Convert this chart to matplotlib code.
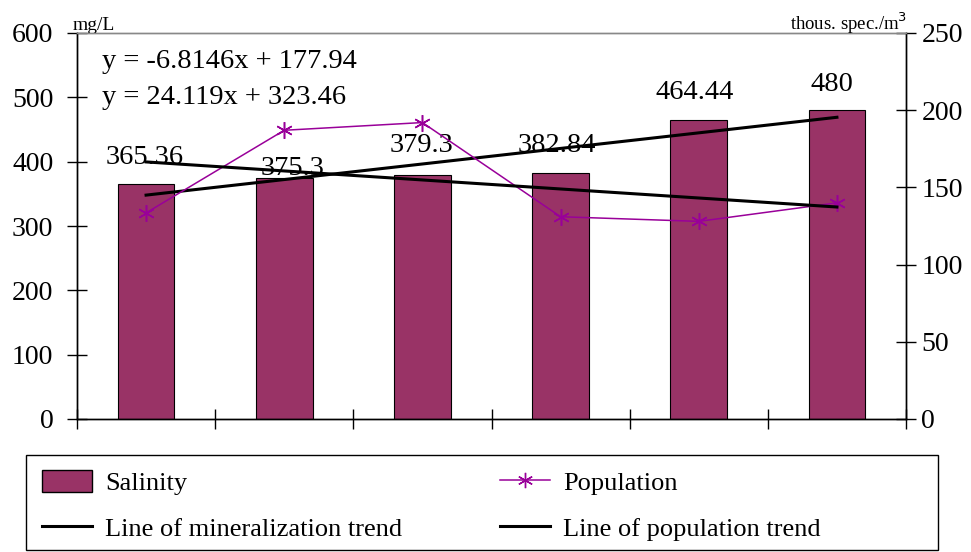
import matplotlib.pyplot as plt
import matplotlib.patches as patches
from matplotlib.lines import Line2D

plt.rcParams['font.family'] = ['Liberation Serif', 'DejaVu Serif']

# data
categories = [1, 2, 3, 4, 5, 6]
salinity = [365.36, 375.3, 379.3, 382.84, 464.44, 480]            # mg/L, left axis
population = [133.5, 187, 192, 131, 128, 140]                      # thous. spec./m3, right axis
mineral_trend_x = [1, 6]
mineral_trend_y = [348, 469]                                        # left axis
pop_trend_x = [1, 6]
pop_trend_y = [166.5, 137.3]                                        # right axis
eq_texts = ["y = -6.8146x + 177.94", "y = 24.119x + 323.46"]

bar_color = "#993366"
pop_color = "#990099"
star = (6, 2, 0)

W, H = 971, 552
fig = plt.figure(figsize=(W / 100, H / 100), dpi=100)
ax = fig.add_axes([77 / W, 1 - 419 / H, 829 / W, 386 / H])
ax2 = ax.twinx()

ax.bar(categories, salinity, width=0.41, color=bar_color, edgecolor="black", linewidth=0.8, zorder=2)
ax.plot(mineral_trend_x, mineral_trend_y, color="black", lw=2.2, zorder=4)
ax2.plot(categories, population, color=pop_color, lw=1.1, marker=star, ms=12, mew=1.1, zorder=3)
ax2.plot(pop_trend_x, pop_trend_y, color="black", lw=2.2, zorder=4)

# value labels over the bars (pixel offsets picked by eye)
label_dy = [26, 9, 29, 27, 28, 26]
label_dx = [-1, 8, -1, -4, -4, -5]
for x, v, dx, dy in zip(categories, salinity, label_dx, label_dy):
    ax.annotate(f"{v:g}", (x, v), xytext=(dx, dy), textcoords="offset pixels",
                ha="center", va="center", fontsize=20.5, zorder=5)

ax.text(25 / 829, 1 - 28 / 386, eq_texts[0], transform=ax.transAxes, fontsize=20.5, va="center")
ax.text(25 / 829, 1 - 64 / 386, eq_texts[1], transform=ax.transAxes, fontsize=20.5, va="center")

ax.set_xlim(0.5, 6.5)
ax.set_ylim(0, 600)
ax2.set_ylim(0, 250)
ax.set_yticks(range(0, 601, 100))
ax2.set_yticks(range(0, 251, 50))
ax.set_xticks([i + 0.5 for i in range(0, 7)])
ax.set_xticklabels([])

ax.tick_params(axis="y", direction="inout", length=14, width=1, labelsize=20, pad=10)
ax2.tick_params(axis="y", direction="inout", length=14, width=1, labelsize=20, pad=4)
ax.tick_params(axis="x", direction="inout", length=14, width=1)

for a in (ax, ax2):
    a.spines["top"].set_color("#888888")
    for s in a.spines.values():
        s.set_linewidth(1)

ax.text(-4 / 829, 1 + 3 / 386, "mg/L", transform=ax.transAxes, fontsize=14, ha="left", va="baseline")
ax2.text(1.001, 1 + 3 / 386, "thous. spec./m$^3$", transform=ax2.transAxes, fontsize=13.5,
         ha="right", va="baseline")

# legend: frame drawn separately, two columns placed by pixel position
frame = patches.Rectangle((26 / W, 1 - 550 / H), (938 - 26) / W, (550 - 455) / H,
                          transform=fig.transFigure, facecolor="white", edgecolor="black",
                          linewidth=1)
fig.patches.append(frame)

col1 = [
    patches.Patch(facecolor=bar_color, edgecolor="black", label="Salinity"),
    Line2D([], [], color="black", lw=2.2, label="Line of mineralization trend"),
]
col2 = [
    Line2D([], [], color=pop_color, lw=1.1, marker=star, ms=11, label="Population"),
    Line2D([], [], color="black", lw=2.2, label="Line of population trend"),
]
leg_kw = dict(loc="upper left", fontsize=19, frameon=False, borderpad=0, borderaxespad=0,
              handlelength=1.9, handleheight=0.9, handletextpad=0.5, labelspacing=0.8)
leg1 = fig.legend(handles=col1, bbox_to_anchor=(42 / W, 1 - 470 / H), **leg_kw)
leg2 = fig.legend(handles=col2, bbox_to_anchor=(500 / W, 1 - 470 / H), **leg_kw)

fig.savefig("out.png", dpi=100)
